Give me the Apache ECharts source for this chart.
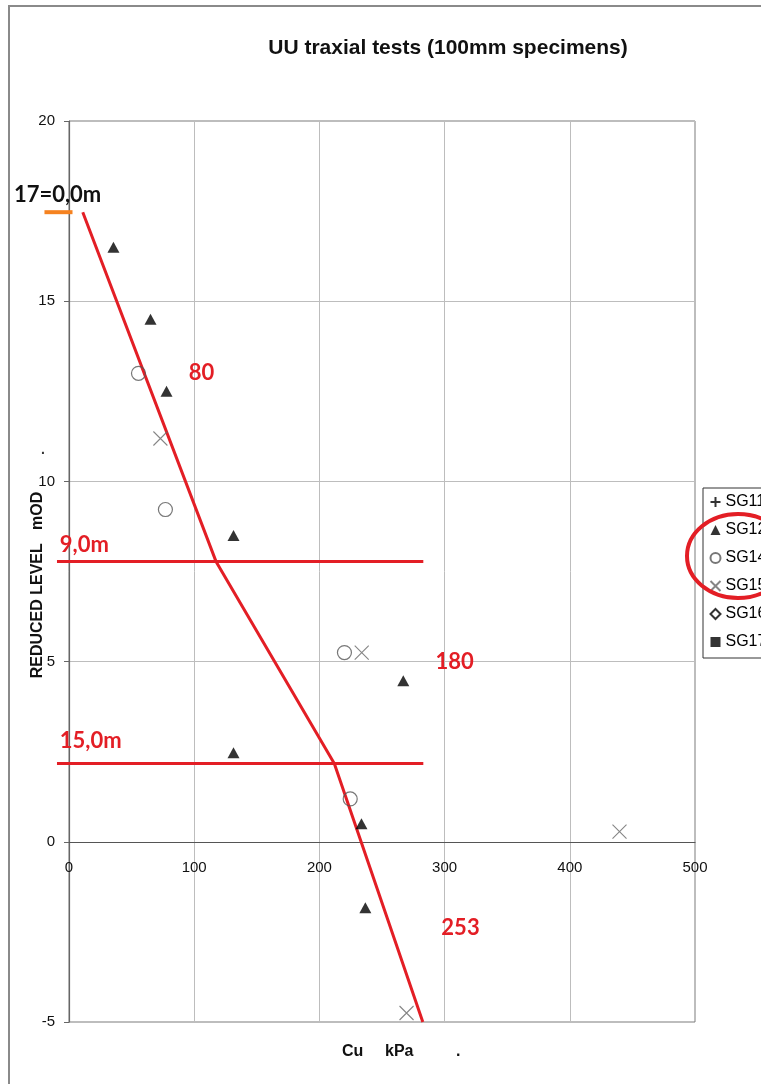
<!DOCTYPE html>
<html><head><meta charset="utf-8">
<script src="https://cdn.jsdelivr.net/npm/echarts@6/dist/echarts.min.js"></script>
<style>html,body{margin:0;padding:0;background:#fff}#c{width:761px;height:1084px}</style>
</head><body><div id="c"></div>
<script>
// ---- data ----
const titleText = 'UU traxial tests (100mm specimens)';
const xTicks = [0, 100, 200, 300, 400, 500];
const yTicks = [-5, 0, 5, 10, 15, 20];
const seriesNames = ['SG11', 'SG12', 'SG14', 'SG15', 'SG16', 'SG17'];
const sg11 = [];
const sg12 = [[35.5,16.5],[65.1,14.5],[77.9,12.5],[131.4,8.5],[267,4.47],[131.4,2.47],[233.6,0.5],[236.7,-1.83]];
const sg14 = [[55.5,13.0],[77,9.22],[220,5.25],[224.6,1.19]];
const sg15 = [[73,11.19],[233.8,5.25],[439.7,0.28],[269.6,-4.75]];
const sg16 = [];
const sg17 = [];
const trendLine = [[11,17.47],[117.4,7.78],[211.9,2.17],[282.6,-5]];
const level9m = [[-9.6,7.78],[283,7.78]];
const level15m = [[-9.6,2.17],[283,2.17]];
const topMark = [[-19.6,17.47],[2.8,17.47]];
const redNotes = [
  {text:'80', at:[105.8,13.0], align:'center'},
  {text:'180', at:[308,5.0], align:'center'},
  {text:'253', at:[312.7,-2.39], align:'center'},
  {text:'9,0m', at:[-7.4,8.25], align:'left'},
  {text:'15,0m', at:[-7.4,2.8], align:'left'}
];
const blackNote = {text:'17=0,0m', at:[-44,17.94], align:'left'};

const chart = echarts.init(document.getElementById('c'), null, {renderer:'canvas'});
const F = '"Liberation Sans", Arial, sans-serif';
const RED = '#e31e25';

const option = {
  backgroundColor:'#fff',
  animation:false,
  grid:{left:69, right:66, top:121, bottom:62, show:true, borderColor:'#7a7a7a', borderWidth:1},
  xAxis:{type:'value', min:xTicks[0], max:xTicks[xTicks.length-1], interval:100,
    position:'bottom', offset:-180,
    axisLine:{onZero:false, lineStyle:{color:'#555', width:1.2}},
    axisTick:{show:false},
    axisLabel:{color:'#111', fontSize:15, fontFamily:F, margin:18},
    splitLine:{show:true, lineStyle:{color:'#bdbdbd', width:1}}},
  yAxis:{type:'value', min:yTicks[0], max:yTicks[yTicks.length-1], interval:5,
    axisLine:{show:true, onZero:false, lineStyle:{color:'#666', width:1.2}},
    axisTick:{show:true, inside:false, length:5, lineStyle:{color:'#666'}},
    axisLabel:{color:'#111', fontSize:15, fontFamily:F, margin:14},
    splitLine:{show:true, lineStyle:{color:'#bdbdbd', width:1}}},
  legend:{orient:'vertical', left:703, top:488, data:seriesNames,
    itemWidth:10, itemHeight:10, itemGap:12,
    padding:[6,6,8,5],
    borderColor:'#333', borderWidth:1, backgroundColor:'#fff',
    textStyle:{fontSize:16, fontFamily:F, color:'#000'}},
  series:[
    {name:'SG11', type:'scatter', data:sg11, symbol:'path://M5,0L5,10M0,5L10,5', symbolSize:10,
      itemStyle:{color:'none', borderColor:'#000', borderWidth:1.2}},
    {name:'SG12', type:'scatter', data:sg12, symbol:'triangle', symbolSize:[12,11],
      itemStyle:{color:'#000'}, z:5},
    {name:'SG14', type:'scatter', data:sg14, symbol:'circle', symbolSize:14,
      itemStyle:{color:'rgba(255,255,255,0)', borderColor:'#555', borderWidth:1.2}, z:5},
    {name:'SG15', type:'scatter', data:sg15, symbol:'path://M0,0L10,10M10,0L0,10', symbolSize:14,
      itemStyle:{color:'none', borderColor:'#666', borderWidth:1.1}, z:5},
    {name:'SG16', type:'scatter', data:sg16, symbol:'diamond', symbolSize:9,
      itemStyle:{color:'#fff', borderColor:'#000', borderWidth:1}},
    {name:'SG17', type:'scatter', data:sg17, symbol:'rect', symbolSize:10,
      itemStyle:{color:'#000'}},
    {name:'trend', type:'line', data:trendLine, symbol:'none', clip:false,
      lineStyle:{color:RED, width:3}, z:4}
  ]
};
chart.setOption(option);

const px = p => chart.convertToPixel({gridIndex:0}, p);
const polyline = (pts, color, w) => ({type:'polyline', z:40, silent:true,
  shape:{points: pts.map(px)}, style:{fill:'none', stroke:color, lineWidth:w}});
const graphics = [
  {type:'rect', shape:{x:9, y:6, width:800, height:1200}, style:{fill:'none', stroke:'#8a8a8a', lineWidth:2}, z:-10, silent:true},
  {type:'text', x:448, y:48, style:{text:titleText, font:'bold 21px '+F, fill:'#111', align:'center', verticalAlign:'middle'}},
  {type:'text', x:38, y:585, rotation:Math.PI/2, style:{text:'REDUCED LEVEL   mOD', font:'bold 16px '+F, fill:'#111', align:'center', verticalAlign:'middle'}},
  {type:'text', x:342, y:1052, style:{text:'Cu', font:'bold 16px '+F, fill:'#111', align:'left', verticalAlign:'middle'}},
  {type:'text', x:385, y:1052, style:{text:'kPa', font:'bold 16px '+F, fill:'#111', align:'left', verticalAlign:'middle'}},
  {type:'text', x:456, y:1052, style:{text:'.', font:'bold 16px '+F, fill:'#111', align:'left', verticalAlign:'middle'}},
  {type:'text', x:41, y:450, style:{text:'.', font:'bold 14px '+F, fill:'#333', align:'left', verticalAlign:'middle'}},
  polyline(level9m, RED, 3),
  polyline(level15m, RED, 3),
  polyline(topMark, '#f58220', 4),
  {type:'ellipse', shape:{cx:738, cy:556, rx:51, ry:42}, style:{fill:'none', stroke:RED, lineWidth:4}, z:100}
];
redNotes.forEach(n => {
  const p = px(n.at);
  graphics.push({type:'text', x:p[0], y:p[1], z:50, style:{text:n.text, font:'bold 22px Lato, "Open Sans", sans-serif', fill:RED, align:n.align, verticalAlign:'middle'}});
});
{
  const p = px(blackNote.at);
  graphics.push({type:'text', x:p[0], y:p[1], z:50, style:{text:blackNote.text, font:'bold 22px Lato, "Open Sans", sans-serif', fill:'#111', align:blackNote.align, verticalAlign:'middle'}});
}
chart.setOption({graphic:graphics});
</script>
</body></html>
